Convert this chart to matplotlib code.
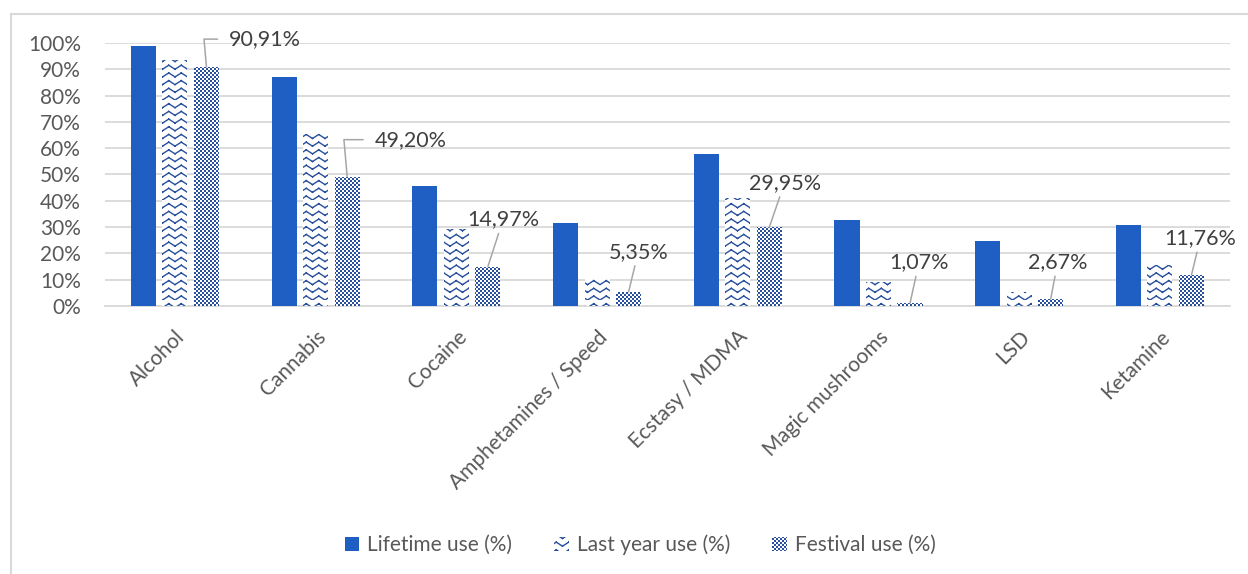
import warnings
import numpy as np
import matplotlib
matplotlib.use('Agg')
import matplotlib.pyplot as plt
import matplotlib.hatch as mhatch
from matplotlib.path import Path
from matplotlib.lines import Line2D

warnings.filterwarnings('ignore')

categories = ['Alcohol', 'Cannabis', 'Cocaine', 'Amphetamines / Speed',
              'Ecstasy / MDMA', 'Magic mushrooms', 'LSD', 'Ketamine']
lifetime = [99.0, 87.0, 45.6, 31.6, 57.8, 32.7, 24.7, 30.8]
last_year = [93.5, 65.4, 29.3, 10.6, 41.0, 9.1, 5.3, 15.6]
festival = [90.91, 49.20, 14.97, 5.35, 29.95, 1.07, 2.67, 11.76]
series_names = ['Lifetime use (%)', 'Last year use (%)', 'Festival use (%)']
yticks = [0, 10, 20, 30, 40, 50, 60, 70, 80, 90, 100]

# label offsets (points) for the festival data labels
label_offsets = [(16, 20), (19.5, 26.6), (11, 34), (7, 29), (11, 32), (6.5, 29.5), (5, 26.6), (6.5, 26.6)]
elbow = [True, True, False, False, False, False, False, False]


class WaveHatch(mhatch.HatchPatternBase):
    # zigzag rows, drawn as separate segments so nothing gets filled
    def __init__(self, hatch, density):
        self.rows = 13 if 'w' in hatch else 0
        self.teeth = 8
        self.num_vertices = self.rows * self.teeth * 2 * 2
        self.filled = False

    def set_vertices_and_codes(self, vertices, codes):
        amp = 0.04
        k = 0
        for i in range(self.rows):
            base = i / self.rows
            for j in range(2 * self.teeth):
                x0, x1 = j / (2 * self.teeth), (j + 1) / (2 * self.teeth)
                y0 = base + amp * (j % 2)
                y1 = base + amp * ((j + 1) % 2)
                vertices[k] = (x0, y0)
                vertices[k + 1] = (x1, y1)
                codes[k] = Path.MOVETO
                codes[k + 1] = Path.LINETO
                k += 2


class CheckHatch(mhatch.HatchPatternBase):
    def __init__(self, hatch, density):
        self.n = 50 if 'k' in hatch else 0
        self.num_vertices = (self.n * self.n // 2) * 5
        self.filled = True

    def set_vertices_and_codes(self, vertices, codes):
        cell = 1.0 / self.n
        ins = 0.007
        s = cell - 2 * ins
        k = 0
        for i in range(self.n):
            for j in range(self.n):
                if (i + j) % 2:
                    continue
                x, y = j * cell + ins, i * cell + ins
                vertices[k:k + 5] = [(x, y), (x + s, y), (x + s, y + s), (x, y + s), (x, y)]
                codes[k:k + 5] = [Path.MOVETO, Path.LINETO, Path.LINETO, Path.LINETO, Path.CLOSEPOLY]
                k += 5


mhatch._hatch_types.append(WaveHatch)
mhatch._hatch_types.append(CheckHatch)

plt.rcParams['font.family'] = ['Lato', 'DejaVu Sans']
plt.rcParams['hatch.linewidth'] = 1.0

solid_blue = '#1f5fc4'
hatch_blue = '#28509c'
grey_text = '#595959'

fig = plt.figure(figsize=(12.48, 5.74), dpi=100)
ax = fig.add_axes([0.0838, 0.4669, 0.902, 0.4582])

x = np.arange(len(categories))
w = 0.178
step = 0.224

ax.bar(x - step, lifetime, w, color=solid_blue, label=series_names[0], zorder=3)
plt.rcParams['hatch.color'] = hatch_blue
ax.bar(x, last_year, w, color='white', edgecolor=hatch_blue, linewidth=0,
       hatch='w', label=series_names[1], zorder=3)
ax.bar(x + step, festival, w, color='white', edgecolor=hatch_blue, linewidth=0,
       hatch='k', label=series_names[2], zorder=3)

for i, v in enumerate(festival):
    txt = f'{v:.2f}%'.replace('.', ',')
    xi = x[i] + step
    if elbow[i]:
        ax.annotate(txt, xy=(xi, v), xytext=label_offsets[i], textcoords='offset points',
                    ha='left', va='center', fontsize=15.5, color='#404040',
                    arrowprops=dict(arrowstyle='-', color='#a6a6a6', lw=1.1,
                                    connectionstyle='angle,angleA=0,angleB=95,rad=0',
                                    relpos=(0, 0.5), shrinkA=6, shrinkB=0))
    else:
        ax.annotate(txt, xy=(xi, v), xytext=label_offsets[i], textcoords='offset points',
                    ha='center', va='center', fontsize=15.5, color='#404040',
                    arrowprops=dict(arrowstyle='-', color='#a6a6a6', lw=1.1,
                                    shrinkA=1, shrinkB=0))

ax.set_xlim(-0.5, len(categories) - 0.5)
ax.set_ylim(0, 100)
ax.set_yticks(yticks)
ax.set_yticklabels([f'{t}%' for t in yticks])
ax.set_xticks(x)
ax.set_xticklabels(categories, rotation=45, ha='right', rotation_mode='anchor')
ax.tick_params(axis='both', length=0, labelsize=15, labelcolor=grey_text)
ax.tick_params(axis='y', pad=17)
ax.tick_params(axis='x', pad=15)
ax.grid(axis='y', color='#d9d9d9', linewidth=1.3, zorder=0)
ax.set_axisbelow(True)
for side in ['top', 'right', 'left']:
    ax.spines[side].set_visible(False)
ax.spines['bottom'].set_color('#d9d9d9')
ax.spines['bottom'].set_linewidth(1.3)

fig.legend(loc='center', bbox_to_anchor=(0.513, 1 - 545 / 574), ncol=3, frameon=False,
           fontsize=15, labelcolor=grey_text, handlelength=0.7, handleheight=0.7,
           handletextpad=0.4, columnspacing=2.0)

# chart area border (top and left edges visible)
fig.add_artist(Line2D([11 / 1248, 11 / 1248], [0, 1 - 14 / 574], color='#d9d9d9', lw=1.5))
fig.add_artist(Line2D([11 / 1248, 1], [1 - 14 / 574, 1 - 14 / 574], color='#d9d9d9', lw=1.5))

fig.savefig('out.png', dpi=100)
